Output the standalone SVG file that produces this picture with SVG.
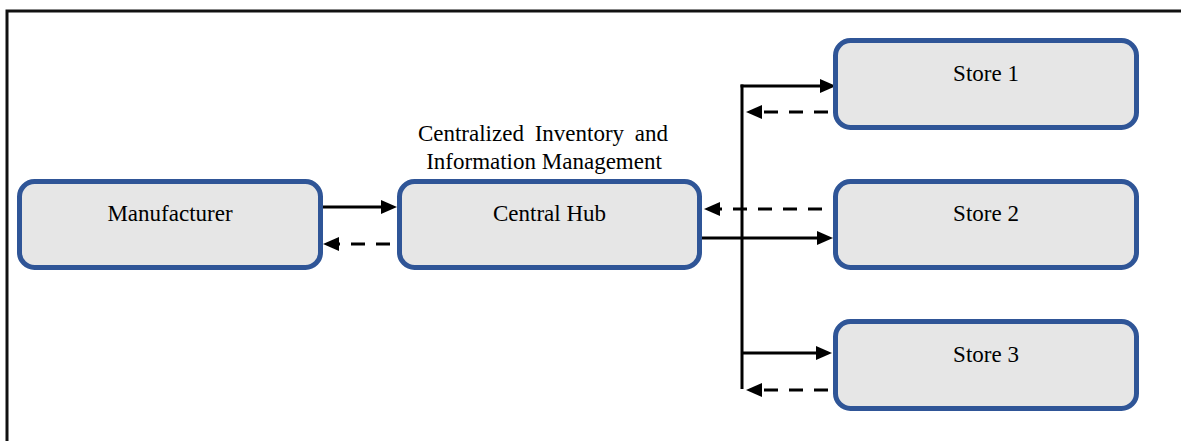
<svg xmlns="http://www.w3.org/2000/svg" width="1181" height="441" viewBox="0 0 1181 441">
<style>
.box{fill:#e6e6e6;stroke:#2f5597;stroke-width:5}
.lbl{font-family:'Liberation Serif','Times New Roman','DejaVu Serif',serif;font-size:23px;fill:#000;text-anchor:middle}
.sol{stroke:#000;stroke-width:3;fill:none}
.dsh{stroke:#000;stroke-width:3;fill:none;stroke-dasharray:14 11}
.frame{stroke:#111;stroke-width:3;fill:none}
</style>
<defs>
<marker id="ah" viewBox="0 0 16 14" refX="4" refY="7" markerWidth="16" markerHeight="14" markerUnits="userSpaceOnUse" orient="auto">
<path d="M0,0 L16,7 L0,14 z" fill="#000"/>
</marker>
</defs>
<rect width="1181" height="441" fill="#fff"/>
<path class="frame" d="M7,441 L7,11 L1181,11"/>
<g id="connectors">
<line class="sol" x1="323" y1="207" x2="385" y2="207" marker-end="url(#ah)"/>
<line class="dsh" x1="390" y1="244" x2="335" y2="244" marker-end="url(#ah)"/>
<line class="sol" x1="742" y1="84.5" x2="742" y2="389"/>
<line class="sol" x1="740.5" y1="86" x2="824" y2="86" marker-end="url(#ah)"/>
<line class="dsh" x1="828" y1="112" x2="758" y2="112" marker-end="url(#ah)"/>
<line class="dsh" x1="822" y1="209" x2="716" y2="209" marker-end="url(#ah)"/>
<line class="sol" x1="702" y1="238" x2="821" y2="238" marker-end="url(#ah)"/>
<line class="sol" x1="742" y1="353" x2="820" y2="353" marker-end="url(#ah)"/>
<line class="dsh" x1="828" y1="390" x2="758" y2="390" marker-end="url(#ah)"/>
</g>
<g id="manufacturer">
<rect class="box" x="19.5" y="181.5" width="301" height="86" rx="15"/>
<text class="lbl" x="170" y="221" font-family="Liberation Serif, serif">Manufacturer</text>
</g>
<g id="central-hub">
<rect class="box" x="399.5" y="181.5" width="300" height="86" rx="15"/>
<text class="lbl" x="549.5" y="221" font-family="Liberation Serif, serif">Central Hub</text>
</g>
<g id="hub-note">
<text class="lbl" x="543" y="141" word-spacing="5" font-family="Liberation Serif, serif">Centralized Inventory and</text>
<text class="lbl" x="544" y="169" font-family="Liberation Serif, serif">Information Management</text>
</g>
<g id="store1">
<rect class="box" x="835.5" y="40.5" width="301" height="87" rx="15"/>
<text class="lbl" x="986" y="81" font-family="Liberation Serif, serif">Store 1</text>
</g>
<g id="store2">
<rect class="box" x="835.5" y="181.5" width="301" height="86" rx="15"/>
<text class="lbl" x="986" y="221" font-family="Liberation Serif, serif">Store 2</text>
</g>
<g id="store3">
<rect class="box" x="835.5" y="321.5" width="301" height="87" rx="15"/>
<text class="lbl" x="986" y="362" font-family="Liberation Serif, serif">Store 3</text>
</g>
</svg>
